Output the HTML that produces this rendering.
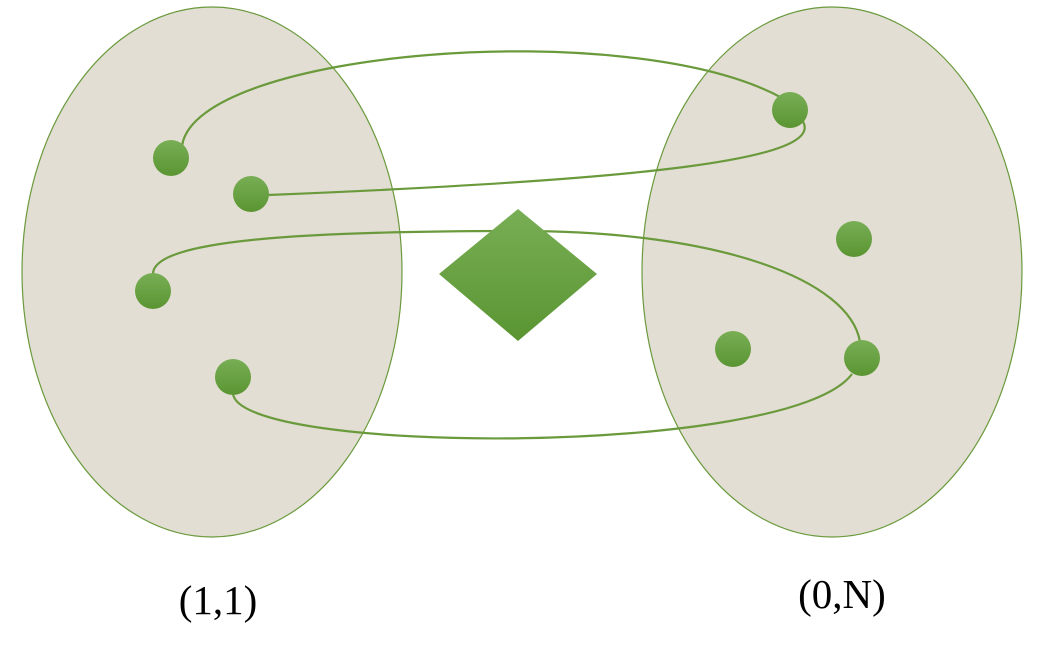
<!DOCTYPE html>
<html><head><meta charset="utf-8"><style>html,body{margin:0;padding:0;background:#fff;}svg{display:block}</style></head>
<body>
<svg width="1038" height="658" viewBox="0 0 1038 658">
<defs>
<linearGradient id="g" x1="0" y1="0" x2="0" y2="1"><stop offset="0" stop-color="#78ae55"/><stop offset="1" stop-color="#5a9532"/></linearGradient>
</defs>
<ellipse cx="212" cy="272" rx="190" ry="265" fill="#e2ded3" stroke="#6a9a3c" stroke-width="1.2"/>
<ellipse cx="832" cy="272" rx="190" ry="265" fill="#e2ded3" stroke="#6a9a3c" stroke-width="1.2"/>
<g fill="none" stroke="#6a9a3c" stroke-width="2.2">
<path d="M182,146 C195,50 630,15 782,98"/>
<path d="M802,120 C830,160 640,180 268,195"/>
<path d="M153,275 C150,240 300,231 520,231 C720,231 850,280 860,342"/>
<path d="M233,393 C235,455 790,458 852,374"/>
</g>
<polygon points="518,209 597,274 518,341 439,274" fill="url(#g)"/>
<g fill="url(#g)">
<circle cx="171" cy="158" r="18"/>
<circle cx="251" cy="194" r="18"/>
<circle cx="153" cy="291" r="18"/>
<circle cx="233" cy="377" r="18"/>
<circle cx="790" cy="110" r="18"/>
<circle cx="854" cy="239" r="18"/>
<circle cx="733" cy="349" r="18"/>
<circle cx="862" cy="358" r="18"/>
</g>
<text x="218" y="614" text-anchor="middle" font-family="Liberation Serif, serif" font-size="41" fill="#000">(1,1)</text>
<text x="842" y="608" text-anchor="middle" font-family="Liberation Serif, serif" font-size="41" fill="#000">(0,N)</text>
</svg>
</body></html>
